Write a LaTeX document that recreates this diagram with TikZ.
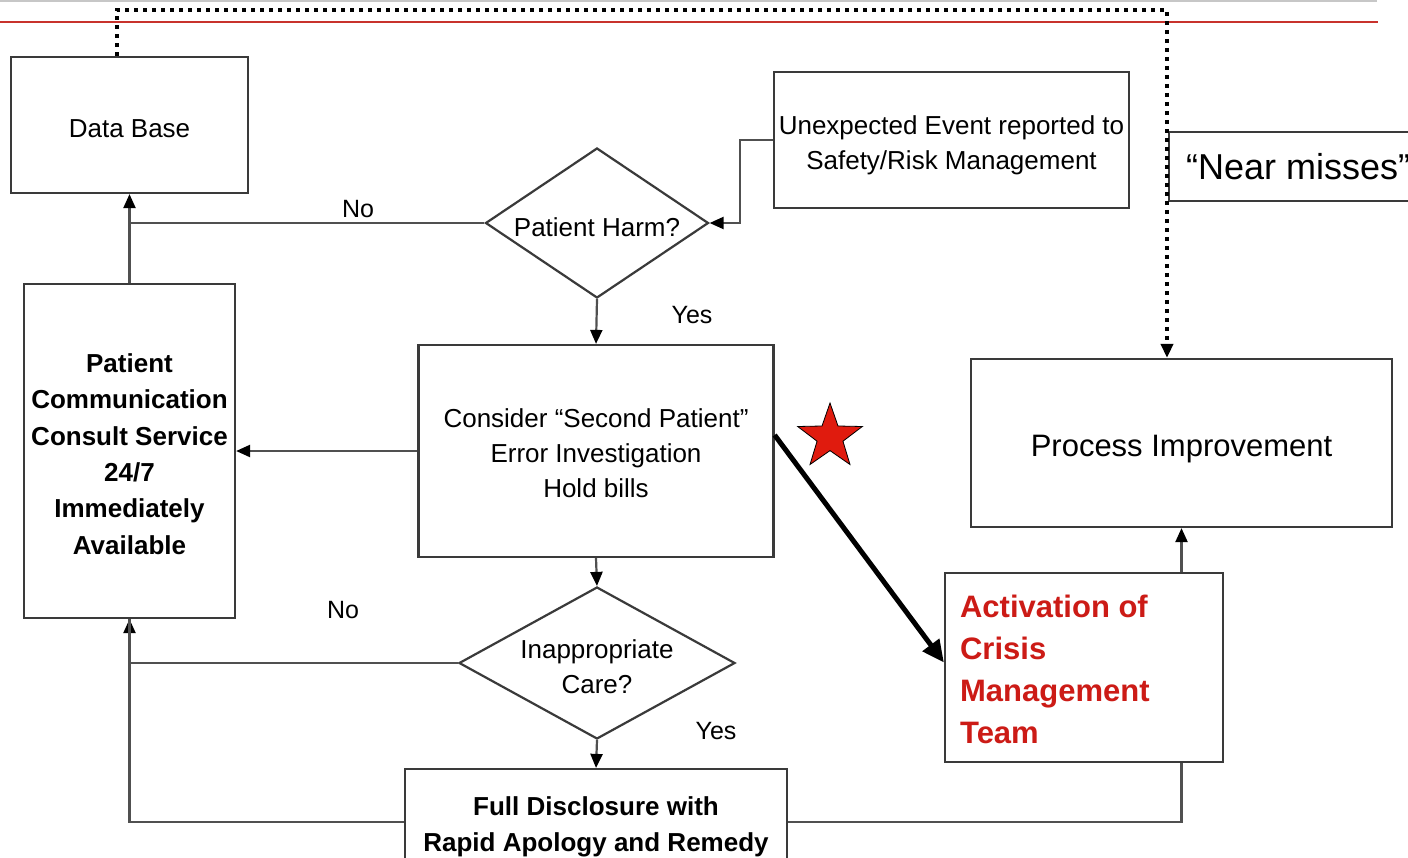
\documentclass[tikz,border=0pt]{standalone}
\usepackage{fontspec}
\setmainfont{Liberation Sans}
\usetikzlibrary{arrows.meta,shapes.geometric}

\definecolor{boxgray}{HTML}{3A3A3A}
\definecolor{linegray}{HTML}{505050}
\definecolor{alertred}{HTML}{CC1B16}
\definecolor{starred}{HTML}{E01B0E}
\definecolor{rulered}{HTML}{C8322C}

\newcommand\fsReg{\fontsize{26pt}{35pt}\selectfont}
\newcommand\fsBold{\bfseries\fontsize{26pt}{36.3pt}\selectfont}
\newcommand\fsAlert{\bfseries\fontsize{31pt}{42pt}\selectfont}
\newcommand\fsBig{\fontsize{31pt}{40pt}\selectfont}
\newcommand\fsHuge{\fontsize{36pt}{44pt}\selectfont}
\newcommand\fsLbl{\fontsize{25pt}{30pt}\selectfont}

\tikzset{
  box/.style={draw=boxgray, line width=2.2pt, fill=white, inner sep=0pt},
  decision/.style={diamond, draw=boxgray, line width=2.2pt, fill=white, inner sep=0pt},
  txt/.style={inner sep=0pt, align=center},
  tip/.style={-{Triangle[length=14pt,width=12pt,color=black]}},
  conn/.style={draw=linegray, line width=2.2pt, tip},
  plain/.style={draw=linegray, line width=2.2pt},
  dotline/.style={draw=black, line width=4pt, dash pattern=on 4pt off 5pt, tip},
  lbl/.style={font=\fsLbl, inner sep=0pt},
}

\begin{document}
\begin{tikzpicture}[x=1pt,y=-1pt]
\useasboundingbox (0,0) rectangle (1408,857);
\clip (0,0) rectangle (1408,857);
\fill[white] (0,0) rectangle (1408,857);

% header rules
\draw[black!22, line width=1.5pt] (0,0.8) -- (1377,0.8);
\draw[rulered, line width=2pt] (0,22) -- (1378,22);

% boxes
\node[box, minimum width=237pt, minimum height=136pt] (db) at (129.5,125) {};
\node[txt, font=\fsReg] (dbtxt) at ([yshift=-4pt]db.center) {Data Base};

\node[box, minimum width=211pt, minimum height=334pt] (pc) at (129.5,451) {};
\node[txt, font=\fsBold] (pctxt) at ([yshift=-3pt]pc.center)
  {Patient\\Communication\\Consult Service\\24/7\\Immediately\\Available};

\node[box, minimum width=355pt, minimum height=136pt] (ue) at (951.5,140) {};
\node[txt, font=\fsReg] (uetxt) at ([yshift=-5pt]ue.center)
  {Unexpected Event reported to\\Safety/Risk Management};

\node[box, minimum width=355pt, minimum height=212pt] (cons) at (596,451) {};
\node[txt, font=\fsReg] (constxt) at ([yshift=-2pt]cons.center)
  {Consider “Second Patient”\\Error Investigation\\Hold bills};

\node[box, minimum width=382pt, minimum height=106pt] (fd) at (596,822) {};
\node[txt, font=\fsBold] (fdtxt) at ([yshift=-5pt]fd.center)
  {Full Disclosure with\\Rapid Apology and Remedy};

\node[box, minimum width=278pt, minimum height=189pt] (act) at (1084,667.5) {};
\node[txt, font=\fsAlert, text=alertred, align=left, anchor=west] (acttxt)
  at ([xshift=16pt,yshift=-2pt]act.west) {Activation of\\Crisis\\Management\\Team};

\node[box, minimum width=421pt, minimum height=168pt] (pi) at (1181.5,443) {};
\node[txt, font=\fsBig] (pitxt) at ([yshift=-6pt]pi.center) {Process Improvement};

\node[box, font=\fsHuge, anchor=west, inner xsep=17pt, minimum height=69pt] (nm) at (1168,166.5)
  {“Near misses”};

% decisions
\node[decision, minimum width=223pt, minimum height=150pt] (harm) at (597,223) {};
\node[txt, font=\fsReg] (harmtxt) at (597,227) {Patient Harm?};
\node[decision, minimum width=276pt, minimum height=152pt] (inapp) at (597,663) {};
\node[txt, font=\fsReg] (inapptxt) at (597,667) {Inappropriate\\Care?};

% branch labels
\node[lbl] (no1) at (358,209) {No};
\node[lbl] (yes1) at (692,315) {Yes};
\node[lbl] (no2) at (343,610) {No};
\node[lbl] (yes2) at (716,731) {Yes};

% connectors
\draw[conn] (pc.north) -- (db.south);
\draw[plain] (harm.west) -- (harm.west -| pc.north);
\draw[conn] (ue.west) -- ++(-33,0) |- (harm.east);
\draw[conn] (harm.south) -- (cons.north);
\draw[conn] (cons.west) -- (pc.east);
\draw[conn] (cons.south) -- (inapp.north);
\draw[conn] (inapp.west) -| (pc.south);
\draw[conn] (inapp.south) -- (fd.north);
\draw[plain] (fd.west) -| (pc.south);
\draw[conn] (pi.south |- act.north) -- (pi.south);
\draw[plain] (pi.south |- act.south) |- (fd.east);

% escalation arrow and marker
\draw[line width=5pt, -{Triangle[length=22pt,width=20pt]}] ([yshift=16pt]cons.east) -- ([yshift=5pt]act.west);
\node[star, star points=5, star point ratio=2.5, minimum size=68pt, inner sep=0pt,
  fill=starred, draw=black, line width=0.8pt] (mark) at (830,437) {};

% near-miss feedback loop
\draw[dotline] ([xshift=-12.5pt]db.north) -- ++(0,-46) -| ([xshift=-14.5pt]pi.north);
\end{tikzpicture}
\end{document}
